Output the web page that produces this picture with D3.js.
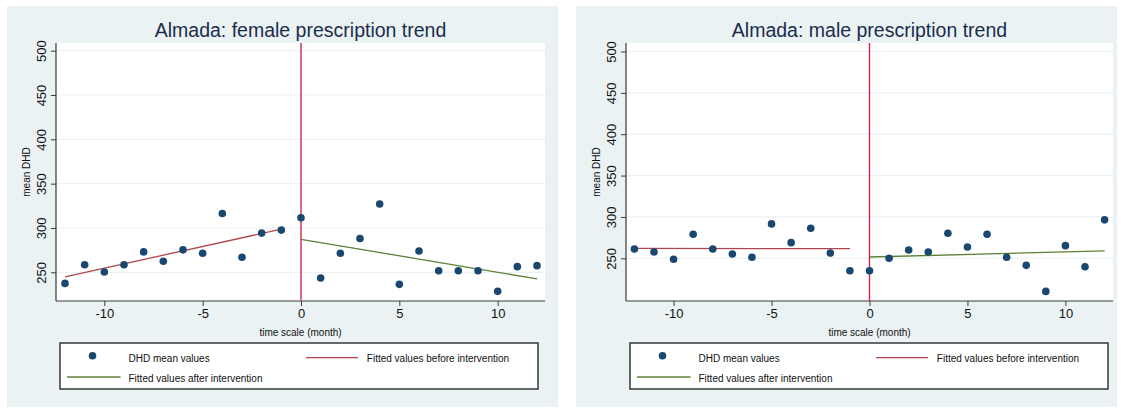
<!DOCTYPE html>
<html>
<head>
<meta charset="utf-8">
<script src="https://cdn.jsdelivr.net/npm/d3@7"></script>
<style>
  html, body { margin: 0; padding: 0; background: #ffffff; }
  svg { display: block; font-family: "Liberation Sans", Arial, Helvetica, sans-serif; }
</style>
</head>
<body>
<svg id="chart" width="1121" height="408"></svg>
<script>
// Monthly time scale relative to the intervention (month 0)
const months = [-12, -11, -10, -9, -8, -7, -6, -5, -4, -3, -2, -1, 0, 1, 2, 3, 4, 5, 6, 7, 8, 9, 10, 11, 12];

// Mean DHD per month
const femaleDHD = [237.5, 258.6, 250.3, 258.6, 273.0, 262.5, 275.3, 271.5, 316.4, 267.0, 294.2, 297.6,
                   311.6, 243.5, 271.5, 288.1, 327.1, 236.4, 274.1, 251.8, 251.8, 251.8, 228.5, 256.4, 257.5];
const maleDHD   = [261.3, 257.6, 248.8, 279.1, 261.3, 255.2, 251.2, 291.6, 268.9, 286.4, 256.4, 235.0,
                   235.0, 250.0, 260.1, 257.6, 280.3, 263.7, 279.1, 251.2, 241.5, 210.0, 265.3, 239.8, 296.5];

// Fitted trend lines (end points)
const fitMonthsBefore = [-12, -1];
const fitMonthsAfter  = [0, 12];
const femaleFitBefore = [244.9, 298.7];
const femaleFitAfter  = [287.2, 242.6];
const maleFitBefore   = [262.0, 261.6];
const maleFitAfter    = [251.6, 258.9];

const xTicks = [-10, -5, 0, 5, 10];
const yTicks = [250, 300, 350, 400, 450, 500];
const interventionMonth = 0;

const legendLabels = ["DHD mean values", "Fitted values before intervention", "Fitted values after intervention"];

const C = {
  bg: "#eaf2f3",
  plot: "#ffffff",
  grid: "#eaf2f3",
  axis: "#3a3a3a",
  text: "#111111",
  title: "#1c2d4c",
  dot: "#1a476f",
  before: "#b0464c",
  after: "#5f7f36"
};

const svg = d3.select("#chart");

const panels = [
  {
    title: "Almada: female prescription trend",
    values: femaleDHD, fitBefore: femaleFitBefore, fitAfter: femaleFitAfter,
    bg: [7, 6, 551, 401],
    plot: { left: 56, right: 545, top: 43, bottom: 301 },
    xRange: [65, 537],
    yRange: [272.3, 50.7],
    vline: { color: "#d4587a", width: 1.8 }
  },
  {
    title: "Almada: male prescription trend",
    values: maleDHD, fitBefore: maleFitBefore, fitAfter: maleFitAfter,
    bg: [576, 6, 541, 401],
    plot: { left: 626, right: 1113, top: 43, bottom: 301 },
    xRange: [634.4, 1104.6],
    yRange: [258.3, 51.5],
    vline: { color: "#e0143c", width: 1.3 }
  }
];

panels.forEach(p => {
  const g = svg.append("g");
  const P = p.plot;

  // panel background
  g.append("rect")
    .attr("x", p.bg[0]).attr("y", p.bg[1])
    .attr("width", p.bg[2]).attr("height", p.bg[3])
    .attr("fill", C.bg);

  // plot region
  g.append("rect")
    .attr("x", P.left).attr("y", P.top)
    .attr("width", P.right - P.left).attr("height", P.bottom - P.top)
    .attr("fill", C.plot);

  const x = d3.scaleLinear().domain([-12, 12]).range(p.xRange);
  const y = d3.scaleLinear().domain([250, 500]).range(p.yRange);

  // horizontal grid
  g.append("g").selectAll("line").data(yTicks).join("line")
    .attr("x1", P.left).attr("x2", P.right)
    .attr("y1", d => y(d)).attr("y2", d => y(d))
    .attr("stroke", C.grid).attr("stroke-width", 1.2);

  // x axis (plain hyphen minus in labels)
  const xAxis = g.append("g")
    .attr("transform", `translate(0,${P.bottom})`)
    .call(d3.axisBottom(x).tickValues(xTicks).tickFormat(d => String(d))
      .tickSize(5).tickSizeOuter(0).tickPadding(3));
  xAxis.select(".domain").attr("d", `M${P.left},0H${P.right}`).attr("stroke", C.axis).attr("stroke-width", 1.2);
  xAxis.selectAll(".tick line").attr("stroke", C.axis);
  xAxis.selectAll(".tick text").attr("font-size", 13).attr("fill", C.text)
    .attr("font-family", "Liberation Sans, Arial, sans-serif");

  // y axis with vertical tick labels
  const yAxis = g.append("g")
    .attr("transform", `translate(${P.left},0)`)
    .call(d3.axisLeft(y).tickValues(yTicks).tickFormat(d => String(d)).tickSize(5).tickSizeOuter(0));
  yAxis.select(".domain").attr("d", `M0,${P.top}V${P.bottom}`).attr("stroke", C.axis).attr("stroke-width", 1.2);
  yAxis.selectAll(".tick line").attr("stroke", C.axis);
  yAxis.selectAll(".tick text")
    .attr("font-size", 13).attr("fill", C.text)
    .attr("font-family", "Liberation Sans, Arial, sans-serif")
    .attr("x", null).attr("dy", null)
    .attr("text-anchor", "middle")
    .attr("transform", "translate(-10,0) rotate(-90)");

  // axis titles
  g.append("text")
    .attr("x", (P.left + P.right) / 2).attr("y", P.bottom + 34.5)
    .attr("text-anchor", "middle").attr("font-size", 10).attr("fill", C.text)
    .text("time scale (month)");
  g.append("text")
    .attr("transform", `translate(${P.left - 26},${(P.top + P.bottom) / 2}) rotate(-90)`)
    .attr("text-anchor", "middle").attr("font-size", 10).attr("fill", C.text)
    .text("mean DHD");

  // title
  g.append("text")
    .attr("x", (P.left + P.right) / 2).attr("y", 37.3)
    .attr("text-anchor", "middle").attr("font-size", 19.5).attr("fill", C.title)
    .text(p.title);

  // intervention line
  g.append("line")
    .attr("x1", x(interventionMonth)).attr("x2", x(interventionMonth))
    .attr("y1", P.top).attr("y2", P.bottom)
    .attr("stroke", p.vline.color).attr("stroke-width", p.vline.width);

  // fitted lines
  const line = d3.line().x(d => x(d[0])).y(d => y(d[1]));
  g.append("path")
    .datum(fitMonthsBefore.map((m, i) => [m, p.fitBefore[i]]))
    .attr("d", line).attr("fill", "none")
    .attr("stroke", C.before).attr("stroke-width", 1.3);
  g.append("path")
    .datum(fitMonthsAfter.map((m, i) => [m, p.fitAfter[i]]))
    .attr("d", line).attr("fill", "none")
    .attr("stroke", C.after).attr("stroke-width", 1.3);

  // points
  g.append("g").selectAll("circle").data(months).join("circle")
    .attr("cx", d => x(d))
    .attr("cy", (d, i) => y(p.values[i]))
    .attr("r", 3.8)
    .attr("fill", C.dot);

  // legend
  const L = { x: P.left + 4, y: 343, w: 478, h: 46 };
  const lg = g.append("g").attr("transform", `translate(${L.x},${L.y})`);
  lg.append("rect").attr("width", L.w).attr("height", L.h)
    .attr("fill", "#ffffff").attr("stroke", "#2a2a2a").attr("stroke-width", 1.4);
  lg.append("circle").attr("cx", 32.5).attr("cy", 12.7).attr("r", 3.8).attr("fill", C.dot);
  lg.append("text").attr("x", 68.5).attr("y", 19.3).attr("font-size", 10).attr("fill", C.text).text(legendLabels[0]);
  lg.append("line").attr("x1", 246).attr("x2", 298).attr("y1", 14.7).attr("y2", 14.7)
    .attr("stroke", C.before).attr("stroke-width", 1.3);
  lg.append("text").attr("x", 306.8).attr("y", 18.5).attr("font-size", 10).attr("fill", C.text).text(legendLabels[1]);
  lg.append("line").attr("x1", 7).attr("x2", 60.5).attr("y1", 34).attr("y2", 34)
    .attr("stroke", C.after).attr("stroke-width", 1.3);
  lg.append("text").attr("x", 68.5).attr("y", 38.5).attr("font-size", 10).attr("fill", C.text).text(legendLabels[2]);
});
</script>
</body>
</html>
